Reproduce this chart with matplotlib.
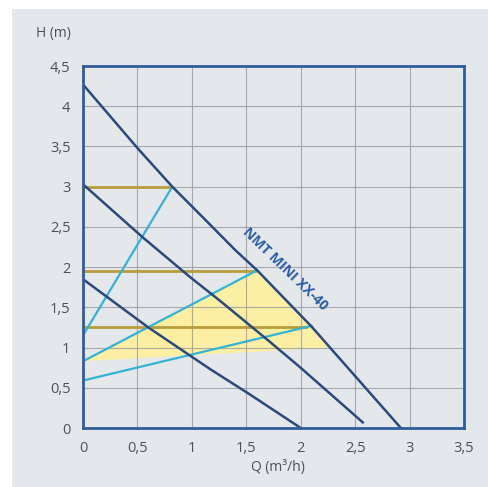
import matplotlib.pyplot as plt
import matplotlib.patches as mpatches

plt.rcParams['font.family'] = ['Open Sans', 'DejaVu Sans']

# pump curves (Q, H)
q_top = [0, 0.5, 0.82, 1.1, 1.4, 1.6, 2.1, 2.36, 2.92]
h_top = [4.27, 3.48, 3.0, 2.62, 2.21, 1.96, 1.26, 0.86, 0]
q_mid = [0, 0.54, 0.98, 1.26, 1.7, 1.99, 2.57]
h_mid = [3.03, 2.38, 1.88, 1.58, 1.09, 0.76, 0.07]
q_low = [0, 0.6, 1.17, 1.53, 2.0]
h_low = [1.85, 1.25, 0.73, 0.42, 0]

# setting lines (cyan): start on H axis, end on top curve
cyan_h0 = [1.15, 0.83, 0.59]
cyan_q1 = [0.82, 1.6, 2.1]
cyan_h1 = [3.0, 1.96, 1.27]

# horizontal constant-pressure lines
orange_h = [3.0, 1.95, 1.25]
orange_q = [0.82, 1.58, 2.05]

# yellow zone
zone_q = [0, 1.6, 2.1, 2.27, 0]
zone_h = [0.83, 1.96, 1.26, 1.0, 0.83]

xticks = [0, 0.5, 1, 1.5, 2, 2.5, 3, 3.5]
yticks = [0, 0.5, 1, 1.5, 2, 2.5, 3, 3.5, 4, 4.5]

navy = '#2b4a7c'
frame = '#2f5d9b'
cyan = '#33b3d6'
gold = '#b99c3c'
bg = '#e4e8eb'

fig = plt.figure(figsize=(4.89, 4.87), dpi=100)
fig.patch.set_facecolor('white')
fig.patches.append(mpatches.Rectangle((12 / 489, 0), 1, 478 / 487,
                                      transform=fig.transFigure,
                                      facecolor=bg, edgecolor='none', zorder=-10))

ax = fig.add_axes([83 / 489, 1 - 428 / 487, 381 / 489, 362 / 487])
ax.set_facecolor(bg)
ax.set_xlim(0, 3.5)
ax.set_ylim(0, 4.5)

ax.fill(zone_q, zone_h, color='#fcefa4', lw=0, zorder=1)

ax.set_xticks(xticks)
ax.set_yticks(yticks)
ax.set_xticklabels([str(t).replace('.', ',') if t % 1 else str(int(t)) for t in xticks])
ax.set_yticklabels([str(t).replace('.', ',') if t % 1 else str(int(t)) for t in yticks])
ax.tick_params(length=0, labelsize=10.5, labelcolor='#505050', pad=9)
ax.grid(True, color='#969a9e', lw=0.8, alpha=0.8, zorder=2)
ax.set_axisbelow(False)

for h, q in zip(orange_h, orange_q):
    ax.plot([0, q], [h, h], color=gold, lw=2, zorder=3)

for h0, q1, h1 in zip(cyan_h0, cyan_q1, cyan_h1):
    ax.plot([0, q1], [h0, h1], color=cyan, lw=1.6, zorder=4)

ax.plot(q_top, h_top, color=navy, lw=1.8, zorder=5)
ax.plot(q_mid, h_mid, color=navy, lw=1.8, zorder=5)
ax.plot(q_low, h_low, color=navy, lw=1.8, zorder=5)

for s in ax.spines.values():
    s.set_color(frame)
    s.set_linewidth(2)
    s.set_zorder(6)

ax.text(1.86, 1.98, 'NMT MINI XX-40', rotation=-44, color='#2a5ca6',
        fontsize=10, fontweight='bold', ha='center', va='center', zorder=6)

fig.text(71 / 489, 1 - 34 / 487, 'H (m)', ha='right', va='center',
         fontsize=10, color='#505050')
fig.text(278 / 489, 1 - 467 / 487, 'Q (m³/h)', ha='center', va='center',
         fontsize=10, color='#505050')

fig.savefig('out.png', dpi=100, facecolor=fig.get_facecolor())
